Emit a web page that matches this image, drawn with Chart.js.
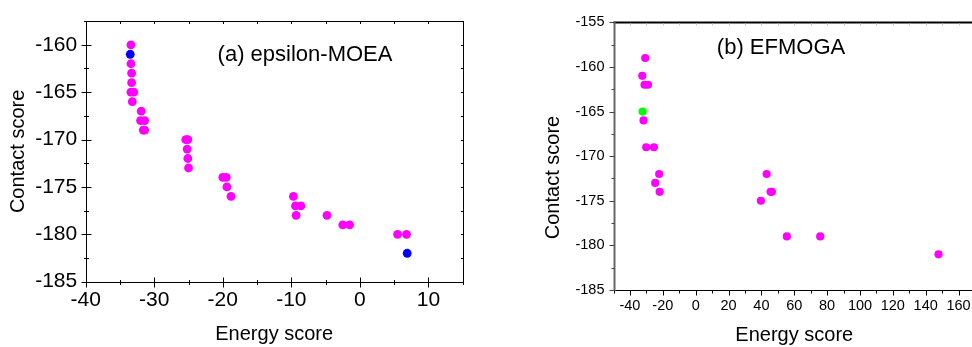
<!DOCTYPE html>
<html><head><meta charset="utf-8">
<script src="https://cdn.jsdelivr.net/npm/chart.js@4/dist/chart.umd.min.js"></script>
<style>
html,body{margin:0;padding:0;background:#fff;width:972px;height:347px;overflow:hidden;position:relative}
canvas{position:absolute;top:0}
#ca{left:0}
#cb{left:490px}
</style></head><body>
<canvas id="ca" width="490" height="347"></canvas>
<canvas id="cb" width="490" height="347"></canvas>
<script>
// ---------- Data: (a) epsilon-MOEA ----------
const energyA_pink  = [-33.4,-33.4,-33.3,-33.3,-33.4,-33.0,-33.2,-31.9,-32.0,-31.4,-31.6,-31.4,-25.4,-25.1,-25.2,-25.1,-25.0,-20.0,-19.5,-19.4,-18.8,-9.7,-9.4,-8.6,-9.3,-4.8,-2.5,-1.5,5.5,6.8];
const contactA_pink = [-160,-162,-163,-164,-165,-165,-166,-167,-168,-168,-169,-169,-170,-170,-171,-172,-173,-174,-174,-175,-176,-176,-177,-177,-178,-178,-179,-179,-180,-180];
const energyA_blue  = [-33.5, 6.9];
const contactA_blue = [-161, -182];
const xTicksA = [-40,-30,-20,-10,0,10];
const yTicksA = [-185,-180,-175,-170,-165,-160];

// ---------- Data: (b) EFMOGA ----------
const energyB_pink  = [-30.7,-32.5,-31.1,-29.0,-31.7,-30.1,-25.4,-22.2,-24.6,-21.9,43.2,39.7,45.6,46.4,55.5,75.8,147.8];
const contactB_pink = [-159,-161,-162,-162,-166,-169,-169,-172,-173,-174,-172,-175,-174,-174,-179,-179,-181];
const energyB_green  = [-32.3];
const contactB_green = [-165];
const xTicksB = [-40,-20,0,20,40,60,80,100,120,140,160];
const yTicksB = [-185,-180,-175,-170,-165,-160,-155];

const FONT = "'Liberation Sans', Arial, Helvetica, sans-serif";
Chart.defaults.color = '#000';
Chart.defaults.font.family = FONT;

const pts = (xs, ys) => xs.map((x, i) => ({x, y: ys[i]}));

function tickValues(scale, majors) {
  const step = majors[1] - majors[0], half = step / 2;
  let v0 = majors[0];
  while (v0 - half >= scale.min - 1e-9) v0 -= half;
  const out = [];
  for (let v = v0; v <= scale.max + 1e-9; v += half) {
    const r = (v - majors[0]) / step;
    out.push({v, major: Math.abs(r - Math.round(r)) < 1e-6});
  }
  return out;
}

const framePlugin = {
  id: 'frame',
  afterDraw(chart, args, o) {
    const ctx = chart.ctx, ca = chart.chartArea;
    const xs = chart.scales.x, ys = chart.scales.y;
    ctx.save();
    ctx.lineCap = 'butt';
    const line = (x1, y1, x2, y2, c, w) => {
      ctx.strokeStyle = c; ctx.lineWidth = w;
      ctx.beginPath(); ctx.moveTo(x1, y1); ctx.lineTo(x2, y2); ctx.stroke();
    };
    const L = Math.round(ca.left) + 0.5, R = Math.round(ca.right) + 0.5;
    const T = Math.round(ca.top) + 0.5, B = Math.round(ca.bottom) + 0.5;
    const xt = tickValues(xs, o.xMajors), yt = tickValues(ys, o.yMajors);
    if (o.style === 'box') {
      ctx.strokeStyle = '#000'; ctx.lineWidth = 1;
      ctx.strokeRect(L, T, R - L, B - T);
      xt.forEach(t => {
        const p = Math.round(xs.getPixelForValue(t.v)) + 0.5;
        const a = t.major ? 5 : 2.5;
        line(p, B - a, p, B + a, '#000', 1);
        line(p, T, p, T + 2.5, '#000', 1);
      });
      yt.forEach(t => {
        const p = Math.round(ys.getPixelForValue(t.v)) + 0.5;
        const a = t.major ? 5 : 2.5;
        line(L - a, p, L + a, p, '#000', 1);
        line(R - 2.5, p, R, p, '#000', 1);
      });
    } else {
      // top line
      line(L - 1, T, R, T, '#000', 2);
      xt.forEach(t => {
        const p = Math.round(xs.getPixelForValue(t.v)) + 0.5;
        line(p, T + 1, p, T + 3, '#ccc', 1);
      });
      // bottom axis
      line(L, B, R, B, '#000', 1);
      xt.forEach(t => {
        const p = Math.round(xs.getPixelForValue(t.v)) + 0.5;
        line(p, B, p, B + (t.major ? 5 : 3), '#000', 1);
      });
      // left axis
      line(L, T - 1, L, B + 0.5, '#666', 2);
      yt.forEach(t => {
        const p = Math.round(ys.getPixelForValue(t.v)) + 0.5;
        line(L - (t.major ? 5 : 3), p, L, p, '#444', 1);
      });
    }
    (o.texts || []).forEach(t => {
      ctx.save();
      ctx.fillStyle = '#000';
      ctx.font = t.font;
      ctx.textAlign = 'center';
      ctx.textBaseline = 'middle';
      ctx.translate(t.x, t.y);
      if (t.rot) ctx.rotate(t.rot);
      ctx.fillText(t.text, 0, 0);
      ctx.restore();
    });
    ctx.restore();
  }
};

function makeChart(id, cfg) {
  return new Chart(document.getElementById(id), {
    type: 'scatter',
    data: { datasets: cfg.datasets.map(d => ({
      data: d.data, backgroundColor: d.color, borderWidth: 0,
      pointRadius: cfg.r, pointHoverRadius: cfg.r
    })) },
    options: {
      responsive: false, animation: false, devicePixelRatio: 1,
      layout: { padding: cfg.padding },
      plugins: { legend: {display: false}, tooltip: {enabled: false},
        frame: { style: cfg.style, xMajors: cfg.xTicks, yMajors: cfg.yTicks, texts: cfg.texts } },
      scales: {
        x: {
          type: 'linear', min: cfg.xMin, max: cfg.xMax,
          grid: {display: false, drawTicks: false}, border: {display: false},
          afterBuildTicks: s => { s.ticks = cfg.xTicks.map(v => ({value: v})); },
          afterFit: s => { s.height = cfg.xH; },
          ticks: { autoSkip: false, maxRotation: 0, padding: cfg.xPad, font: {size: cfg.tickFont, family: FONT}, color: '#000', callback: v => String(v) },
          title: cfg.xTitle
        },
        y: {
          type: 'linear', min: cfg.yMin, max: cfg.yMax,
          grid: {display: false, drawTicks: false}, border: {display: false},
          afterBuildTicks: s => { s.ticks = cfg.yTicks.map(v => ({value: v})); },
          afterFit: s => { s.width = cfg.yW; },
          ticks: { autoSkip: false, padding: cfg.yPad, font: {size: cfg.tickFont, family: FONT}, color: '#000', callback: v => String(v) },
          title: cfg.yTitle
        }
      }
    },
    plugins: [framePlugin]
  });
}

makeChart('ca', {
  datasets: [
    {data: pts(energyA_pink, contactA_pink), color: '#ff00ff'},
    {data: pts(energyA_blue, contactA_blue), color: '#0000ff'}
  ],
  r: 4.4, style: 'box',
  xMin: -40, xMax: 15, yMin: -185, yMax: -157.5,
  xTicks: xTicksA, yTicks: yTicksA,
  padding: {top: 15.7, right: 27.3, bottom: 0, left: 0},
  xH: 65.3, yW: 85.7, tickFont: 21, xPad: 5.5, yPad: 8.5,
  xTitle: {display: true, text: 'Energy score', font: {size: 20, family: FONT}, color: '#000', padding: {top: 0, bottom: 1}},
  yTitle: {display: true, text: 'Contact score', font: {size: 20, family: FONT}, color: '#000', padding: {top: 6.3, bottom: 0}},
  texts: [{text: '(a) epsilon-MOEA', x: 305, y: 55, font: '22px ' + FONT}]
});

makeChart('cb', {
  datasets: [
    {data: pts(energyB_pink, contactB_pink), color: '#ff00ff'},
    {data: pts(energyB_green, contactB_green), color: '#00ff00'}
  ],
  r: 4.1, style: 'open',
  xMin: -50, xMax: 170, yMin: -185, yMax: -155,
  xTicks: xTicksB, yTicks: yTicksB,
  padding: {top: 22.3, right: 5, bottom: 0, left: 0},
  xH: 57, yW: 123.5, tickFont: 14.5, xPad: 7, yPad: 9,
  xTitle: {display: true, text: 'Energy score', font: {size: 20, family: FONT}, color: '#000', padding: {top: 0, bottom: 0}},
  yTitle: {display: false},
  texts: [
    {text: '(b) EFMOGA', x: 291, y: 48, font: '22px ' + FONT},
    {text: 'Contact score', x: 63.3, y: 177.5, font: '20px ' + FONT, rot: -Math.PI / 2}
  ]
});
</script>
</body></html>
